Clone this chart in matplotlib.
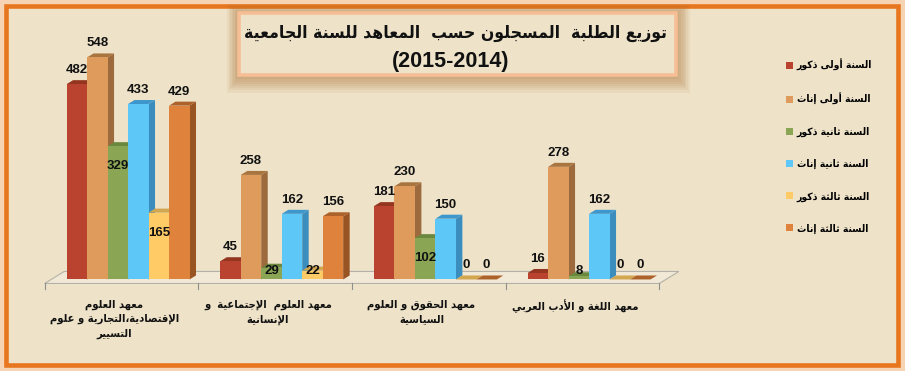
import matplotlib
matplotlib.use("Agg")
import matplotlib.pyplot as plt
from matplotlib.patches import Polygon, Rectangle, Patch

# ---- donnees ----
instituts = [
    "معهد العلوم\nالإقتصادية،التجارية و علوم\nالتسيير",
    "معهد العلوم  الإجتماعية  و\nالإنسانية",
    "معهد الحقوق و العلوم\nالسياسية",
    "معهد اللغة و الأدب العربي",
]
series_noms = ["السنة أولى ذكور", "السنة أولى إناث", "السنة ثانية ذكور",
               "السنة ثانية إناث", "السنة ثالثة ذكور", "السنة ثالثة إناث"]
annee1_h = [482, 45, 181, 16]
annee1_f = [548, 258, 230, 278]
annee2_h = [329, 29, 102, 8]
annee2_f = [433, 162, 150, 162]
annee3_h = [165, 22, 0, 0]
annee3_f = [429, 156, 0, 0]
titre = "توزيع الطلبة  المسجلون حسب  المعاهد للسنة الجامعية"
sous_titre = "(2015-2014)"

series = [annee1_h, annee1_f, annee2_h, annee2_f, annee3_h, annee3_f]
# (face, cote, dessus)
couleurs = [
    ("#B9432E", "#7E2C1E", "#93351F"),
    ("#DE9B5C", "#9C6A3C", "#A9753F"),
    ("#8AA654", "#5E7936", "#6B883F"),
    ("#5DC8F7", "#3B8DBD", "#3E97CC"),
    ("#FFCB67", "#C49A44", "#D3A650"),
    ("#DE823C", "#995424", "#AE622B"),
]
FOND = "#EEE3C9"
AR = "DejaVu Sans"
NUM = "Liberation Sans"

# ---- mise en forme de l'arabe (matplotlib ne fait ni ligatures ni RTL) ----
FORMES = {}
code = 0xFE80
for item in ("ء1 آ2 أ2 ؤ2 إ2 ئ4 ا2 ب4 ة2 ت4 ث4 ج4 ح4 خ4 د2 ذ2 ر2 ز2 س4 ش4 ص4 "
             "ض4 ط4 ظ4 ع4 غ4 ف4 ق4 ك4 ل4 م4 ن4 ه4 و2 ى2 ي4").split():
    n = int(item[1])
    FORMES[item[0]] = [code + j for j in range(n)]
    code += n
for alef, c in zip("آأإا", (0xFEF5, 0xFEF7, 0xFEF9, 0xFEFB)):
    FORMES["ل" + alef] = [c, c + 1]


def ar(texte):
    lignes = []
    for ligne in texte.split("\n"):
        toks, i = [], 0
        while i < len(ligne):
            if ligne[i:i + 2] in FORMES:
                toks.append(ligne[i:i + 2]); i += 2
            else:
                toks.append(ligne[i]); i += 1
        out = []
        for k, t in enumerate(toks):
            f = FORMES.get(t)
            if f is None:
                out.append(t)
                continue
            prev = toks[k - 1] if k > 0 else None
            nxt = toks[k + 1] if k + 1 < len(toks) else None
            p = prev is not None and len(FORMES.get(prev, [])) == 4 and len(f) > 1
            n = nxt is not None and len(f) == 4 and len(FORMES.get(nxt, [])) > 1
            out.append(chr(f[3 if p and n else 1 if p else 2 if n else 0]))
        lignes.append("".join(out)[::-1])
    return "\n".join(lignes)


W, H = 905, 371
fig = plt.figure(figsize=(W / 100, H / 100), dpi=100)
fig.patch.set_facecolor("#F6D3B2")

# fond, cadre orange, boite du titre (coordonnees en pixels)
bg = fig.add_axes([0, 0, 1, 1])
bg.set_xlim(0, W)
bg.set_ylim(H, 0)
bg.axis("off")
bg.add_patch(Rectangle((6, 5.5), 891.5, 359, facecolor=FOND,
                       edgecolor="#E8761E", linewidth=3.3))
for g in range(8, 0, -1):
    bg.add_patch(Rectangle((239 - g * 1.5, 13 - g * 1.1), 437 + g * 3.2, 62 + g * 3.3,
                           facecolor="#A8682A", edgecolor="none", alpha=0.08))
bg.add_patch(Rectangle((239, 13), 437, 62, facecolor=FOND,
                       edgecolor="#F6BE94", linewidth=2.6))
bg.text(455, 33, ar(titre), ha="center", va="center", fontsize=12.6,
        fontweight="bold", family=AR, fontstretch="condensed", color="#111111")
bg.text(451, 61, sous_titre, ha="center", va="center", fontsize=15.5,
        fontweight="bold", family=NUM, color="#111111")

# ---- barres en faux 3D ----
AX_L, AX_R, AX_T, AX_B = 30, 700, 40, 290
ax = fig.add_axes([AX_L / W, 1 - AX_B / H, (AX_R - AX_L) / W, (AX_B - AX_T) / H])
ax.set_xlim(-0.638, 3.722)
ax.set_ylim(-26, 591)
ax.patch.set_alpha(0)
for s in ax.spines.values():
    s.set_visible(False)
ax.set_yticks([])
px_x = (AX_R - AX_L) / (3.722 + 0.638)
px_y = (AX_B - AX_T) / (591 + 26)
DX, DY = 6.5 / px_x, 4 / px_y

ncat = len(instituts)
sol = [(-0.5 - DX, -DY), (ncat - 0.5 - DX, -DY),
       (ncat - 0.5 + 2 * DX, 2 * DY), (-0.5 + 2 * DX, 2 * DY)]
ax.add_patch(Polygon(sol, closed=True, facecolor="#F4EEDF", alpha=0.6,
                     edgecolor="#8E8E8E", linewidth=0.8, zorder=1))
for b in range(ncat + 1):
    ax.plot([b - 0.5 - DX] * 2, [-DY, -DY - 6 / px_y], color="#8E8E8E",
            lw=0.8, clip_on=False, zorder=1)

larg = 0.8 / len(series)
for k, vals in enumerate(series):
    face, cote, dessus = couleurs[k]
    z = 2 + k * 0.1
    xs = [i + (k - 2.5) * larg for i in range(ncat)]
    barres = ax.bar(xs, vals, width=larg, color=face, zorder=z + 0.05)
    for r, v in zip(barres, vals):
        x0, x1 = r.get_x(), r.get_x() + r.get_width()
        ax.add_patch(Polygon([(x1, 0), (x1 + DX, DY), (x1 + DX, v + DY), (x1, v)],
                             closed=True, facecolor=cote, edgecolor="none", zorder=z))
        ax.add_patch(Polygon([(x0, v), (x1, v), (x1 + DX, v + DY), (x0 + DX, v + DY)],
                             closed=True, facecolor=dessus, edgecolor="none", zorder=z))
        # Excel a pose les etiquettes des series vertes/jaunes dans la barre
        if k in (2, 4) and v > 0:
            ly = max(v - 20 / px_y, 8 / px_y)
        else:
            ly = v + 14 / px_y
        ax.text((x0 + x1) / 2, ly, str(v), ha="center", va="center", fontsize=9.5,
                fontweight="bold", family=NUM, color="#111111", zorder=10)

ax.set_xticks([i - 0.09 for i in range(ncat)], [ar(t) for t in instituts])
ax.tick_params(axis="x", length=0, pad=7)
for t in ax.get_xticklabels():
    t.set_fontfamily(AR)
    t.set_fontweight("bold")
    t.set_fontstretch("condensed")
    t.set_fontsize(8)
    t.set_linespacing(1.5)
    t.set_color("#111111")

poignees = [Patch(facecolor=c[0], edgecolor="none") for c in couleurs]
fig.legend(poignees, [ar(s) for s in series_noms], loc="upper left",
           bbox_to_anchor=(777 / W, 1 - 50 / H), frameon=False,
           prop={"family": AR, "weight": "bold", "size": 7.5, "stretch": "condensed"},
           handlelength=0.65, handleheight=0.65, handletextpad=0.35,
           labelspacing=2.1)

fig.savefig("out.png", dpi=100, facecolor=fig.get_facecolor())
